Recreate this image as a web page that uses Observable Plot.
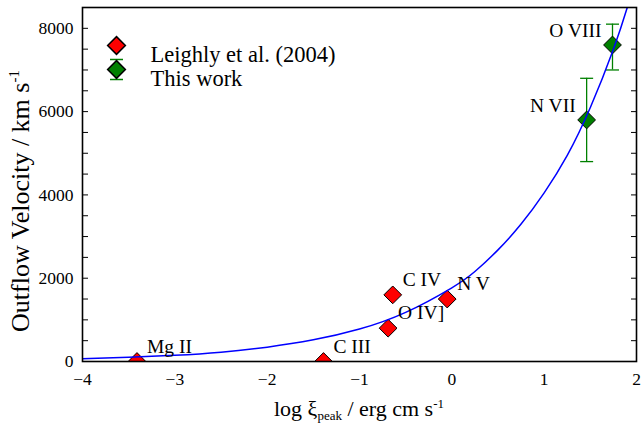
<!DOCTYPE html>
<html><head><meta charset="utf-8">
<script src="https://cdn.jsdelivr.net/npm/d3@7"></script>
<script src="https://cdn.jsdelivr.net/npm/@observablehq/plot@0.6"></script>
<style>
body{margin:0;background:#fff}
#chart{position:relative;width:643px;height:424px}
</style>
</head><body><div id="chart"></div>
<script>
// Leighly et al. (2004)
const leighlyIons = ["Mg II", "C III", "O IV]", "C IV", "N V"];
const leighlyLogXi = [-3.41, -1.39, -0.69, -0.64, -0.05];
const leighlyVelocity = [0, 0, 800, 1600, 1500];
// This work
const thisWorkIons = ["N VII", "O VIII"];
const thisWorkLogXi = [1.46, 1.74];
const thisWorkVelocity = [5800, 7600];
const thisWorkLow = [4800, 7000];
const thisWorkHigh = [6800, 8100];
// Model curve
const modelLogXi = [-4, -3.5, -3, -2.5, -2, -1.5, -1, -0.5, 0, 0.25, 0.5, 0.75, 1, 1.25, 1.5, 1.75, 1.9, 2.0];
const modelVelocity = [65, 100, 150, 225, 345, 520, 780, 1180, 1770, 2160, 2680, 3300, 4050, 4950, 6100, 7500, 8500, 9250];
// Ticks
const xTicks = [-4, -3, -2, -1, 0, 1, 2];
const yTickLabels = [0, 2000, 4000, 6000, 8000];
const yMinorTicks = [0, 500, 1000, 1500, 2000, 2500, 3000, 3500, 4000, 4500, 5000, 5500, 6000, 6500, 7000, 7500, 8000];

const leighly = leighlyIons.map((ion, i) => ({ion, x: leighlyLogXi[i], v: leighlyVelocity[i]}));
const thisWork = thisWorkIons.map((ion, i) => ({ion, x: thisWorkLogXi[i], v: thisWorkVelocity[i], lo: thisWorkLow[i], hi: thisWorkHigh[i]}));
const model = modelLogXi.map((x, i) => ({x, v: modelVelocity[i]}));

const RED = "#ff0000", GREEN = "#008000", BLUE = "#0000ff";
const capSymbol = {draw(ctx, size) { const w = Math.sqrt(size / Math.PI); ctx.moveTo(-w, 0); ctx.lineTo(w, 0); }};
const legendBarSymbol = {draw(ctx, size) { const w = Math.sqrt(size / Math.PI); const h = 10;
  ctx.moveTo(-w, -h); ctx.lineTo(w, -h); ctx.moveTo(-w, h); ctx.lineTo(w, h); ctx.moveTo(0, -h); ctx.lineTo(0, h); }};

const chart = Plot.plot({
  width: 643, height: 424,
  marginLeft: 82, marginRight: 7, marginTop: 7, marginBottom: 63,
  style: {fontFamily: "'Liberation Serif', 'Times New Roman', serif", fontSize: "17.5px", color: "black", background: "white"},
  x: {domain: [-4, 2]},
  y: {domain: [0, 8500]},
  marks: [
    Plot.axisX({ticks: xTicks, tickSize: 0, tickPadding: 11, label: null, tickFormat: d3.format("")}),
    Plot.axisY({ticks: yTickLabels, tickSize: 0, tickPadding: 9, label: null, tickFormat: d3.format("d")}),
    Plot.axisY({anchor: "left", ticks: yMinorTicks, tickSize: -6, tickFormat: () => "", label: null}),
    Plot.axisY({anchor: "right", ticks: yMinorTicks, tickSize: -6, tickFormat: () => "", label: null}),
    Plot.ruleX(thisWork, {x: "x", y1: "lo", y2: "hi", stroke: GREEN, strokeWidth: 1.3}),
    Plot.dot(thisWork, {x: "x", y: "lo", symbol: capSymbol, r: 6.5, stroke: GREEN, strokeWidth: 1.3}),
    Plot.dot(thisWork, {x: "x", y: "hi", symbol: capSymbol, r: 6.5, stroke: GREEN, strokeWidth: 1.3}),
    Plot.dot(leighly, {x: "x", y: "v", symbol: "diamond2", r: 8, fill: RED, stroke: "black", strokeWidth: 1, clip: true}),
    Plot.dot(thisWork, {x: "x", y: "v", symbol: "diamond2", r: 8, fill: GREEN, stroke: "black", strokeWidth: 1, clip: true}),
    Plot.line(model, {x: "x", y: "v", curve: "natural", stroke: BLUE, strokeWidth: 1.5, clip: true}),
    Plot.text(leighly, {x: "x", y: "v", text: "ion", textAnchor: "start", dx: 10, dy: -15, fill: "black", fontSize: 19.5}),
    Plot.text(thisWork, {x: "x", y: "v", text: "ion", textAnchor: "end", dx: -11, dy: -14, fill: "black", fontSize: 19.5}),
    // legend
    Plot.dot(["Leighly et al. (2004)"], {frameAnchor: "top-left", dx: 34, dy: 38, symbol: "diamond2", r: 8, fill: RED, stroke: "black"}),
    Plot.dot(["This work"], {frameAnchor: "top-left", dx: 34, dy: 62, symbol: legendBarSymbol, r: 6.5, stroke: GREEN, strokeWidth: 1.3}),
    Plot.dot(["This work"], {frameAnchor: "top-left", dx: 34, dy: 62, symbol: "diamond2", r: 8, fill: GREEN, stroke: "black"}),
    Plot.text(["Leighly et al. (2004)"], {frameAnchor: "top-left", dx: 68, dy: 39, text: d => d, textAnchor: "start", fontSize: 22.5}),
    Plot.text(["This work"], {frameAnchor: "top-left", dx: 68, dy: 63, text: d => d, textAnchor: "start", fontSize: 22.5}),
    Plot.frame({stroke: "black", strokeWidth: 1.6})
  ]
});
document.getElementById("chart").appendChild(chart);

const svg = d3.select(chart);
const yt = svg.append("text")
  .attr("transform", "translate(29,201) rotate(-90)")
  .attr("text-anchor", "middle")
  .attr("font-size", "26px").attr("fill", "black");
yt.append("tspan").text("Outflow Velocity / km s");
yt.append("tspan").attr("font-size", "15px").attr("dy", "-10").text("-1");

const xt = svg.append("text")
  .attr("x", 359).attr("y", 416)
  .attr("text-anchor", "middle")
  .attr("font-size", "22px").attr("fill", "black");
xt.append("tspan").text("log ξ");
xt.append("tspan").attr("font-size", "13px").attr("dy", "4").text("peak");
xt.append("tspan").attr("dy", "-4").text(" / erg cm s");
xt.append("tspan").attr("font-size", "13px").attr("dy", "-8").text("-1");
</script>
</body></html>
